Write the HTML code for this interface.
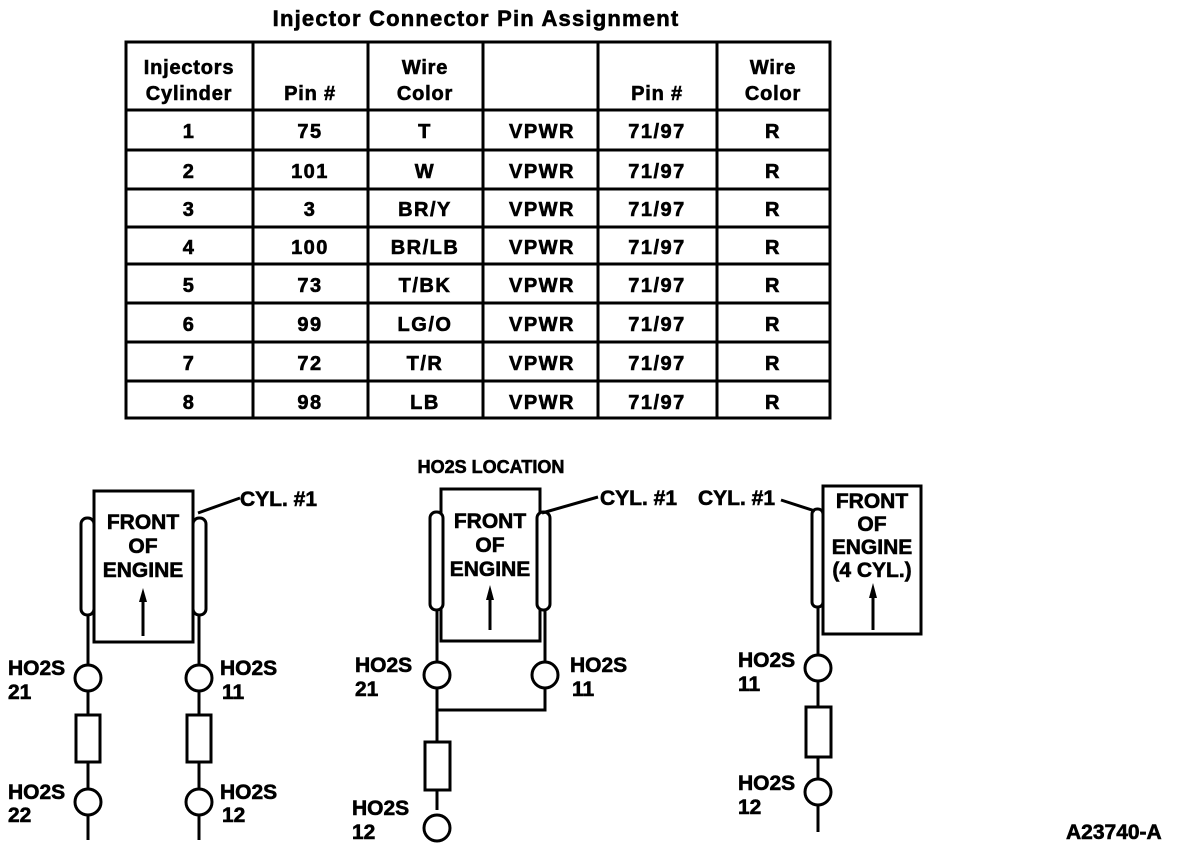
<!DOCTYPE html>
<html><head><meta charset="utf-8"><style>
html,body{margin:0;padding:0;background:#fff;width:1184px;height:852px;overflow:hidden}
text{font-family:"Liberation Sans",Arial,sans-serif;font-weight:bold;fill:#000;stroke:#000;stroke-width:0.6}
</style></head><body>
<svg width="1184" height="852" viewBox="0 0 1184 852" xmlns="http://www.w3.org/2000/svg">
<text x="476" y="26" font-size="22" text-anchor="middle" letter-spacing="1.2">Injector Connector Pin Assignment</text>
<g stroke="#000" stroke-width="3" fill="none">
<rect x="126" y="42" width="704" height="376"/>
<line x1="253" y1="42" x2="253" y2="418"/><line x1="368" y1="42" x2="368" y2="418"/>
<line x1="483" y1="42" x2="483" y2="418"/><line x1="598" y1="42" x2="598" y2="418"/>
<line x1="717" y1="42" x2="717" y2="418"/>
<line x1="126" y1="110" x2="830" y2="110"/><line x1="126" y1="150" x2="830" y2="150"/>
<line x1="126" y1="189" x2="830" y2="189"/><line x1="126" y1="227" x2="830" y2="227"/>
<line x1="126" y1="264" x2="830" y2="264"/><line x1="126" y1="303" x2="830" y2="303"/>
<line x1="126" y1="342" x2="830" y2="342"/><line x1="126" y1="381" x2="830" y2="381"/>
</g>
<g font-size="20" text-anchor="middle" letter-spacing="0.8">
<text x="189" y="74">Injectors</text><text x="189" y="100">Cylinder</text>
<text x="310" y="100">Pin #</text>
<text x="425" y="74">Wire</text><text x="425" y="100">Color</text>
<text x="657" y="100">Pin #</text>
<text x="773" y="74">Wire</text><text x="773" y="100">Color</text>
</g>
<g font-size="20" text-anchor="middle" letter-spacing="1.5">
<text x="189" y="138">1</text><text x="310" y="138">75</text><text x="425" y="138">T</text><text x="542" y="138">VPWR</text><text x="657" y="138">71/97</text><text x="773" y="138">R</text>
<text x="189" y="178">2</text><text x="310" y="178">101</text><text x="425" y="178">W</text><text x="542" y="178">VPWR</text><text x="657" y="178">71/97</text><text x="773" y="178">R</text>
<text x="189" y="216">3</text><text x="310" y="216">3</text><text x="425" y="216">BR/Y</text><text x="542" y="216">VPWR</text><text x="657" y="216">71/97</text><text x="773" y="216">R</text>
<text x="189" y="254">4</text><text x="310" y="254">100</text><text x="425" y="254">BR/LB</text><text x="542" y="254">VPWR</text><text x="657" y="254">71/97</text><text x="773" y="254">R</text>
<text x="189" y="292">5</text><text x="310" y="292">73</text><text x="425" y="292">T/BK</text><text x="542" y="292">VPWR</text><text x="657" y="292">71/97</text><text x="773" y="292">R</text>
<text x="189" y="331">6</text><text x="310" y="331">99</text><text x="425" y="331">LG/O</text><text x="542" y="331">VPWR</text><text x="657" y="331">71/97</text><text x="773" y="331">R</text>
<text x="189" y="370">7</text><text x="310" y="370">72</text><text x="425" y="370">T/R</text><text x="542" y="370">VPWR</text><text x="657" y="370">71/97</text><text x="773" y="370">R</text>
<text x="189" y="409">8</text><text x="310" y="409">98</text><text x="425" y="409">LB</text><text x="542" y="409">VPWR</text><text x="657" y="409">71/97</text><text x="773" y="409">R</text>
</g>
<text x="491" y="473" font-size="18" text-anchor="middle">HO2S LOCATION</text>

<!-- Left diagram -->
<g stroke="#000" stroke-width="3" fill="#fff">
<rect x="94" y="491" width="99" height="151"/>
<rect x="81" y="518" width="13" height="97" rx="6"/>
<rect x="193" y="518" width="13" height="97" rx="6"/>
<line x1="88" y1="615" x2="88" y2="665"/><line x1="199" y1="615" x2="199" y2="665"/>
<line x1="88" y1="691" x2="88" y2="715"/><line x1="88" y1="762" x2="88" y2="789"/><line x1="88" y1="815" x2="88" y2="840"/>
<line x1="199" y1="691" x2="199" y2="715"/><line x1="199" y1="762" x2="199" y2="789"/><line x1="199" y1="815" x2="199" y2="840"/>
<circle cx="88" cy="678" r="13"/><circle cx="199" cy="678" r="13"/>
<rect x="76" y="715" width="24" height="47"/><rect x="187" y="715" width="24" height="47"/>
<circle cx="88" cy="802" r="13"/><circle cx="199" cy="802" r="13"/>
<line x1="198" y1="513" x2="240" y2="498"/>
<line x1="143" y1="600" x2="143" y2="636"/>
</g>
<polygon points="143,588 139,602 147,602" fill="#000"/>
<g font-size="21" text-anchor="middle">
<text x="143" y="529">FRONT</text><text x="143" y="553">OF</text><text x="143" y="577">ENGINE</text>
</g>
<g font-size="21">
<text x="240" y="506">CYL. #1</text>
<text x="8" y="675">HO2S</text><text x="8" y="699">21</text>
<text x="220" y="675">HO2S</text><text x="222" y="699">11</text>
<text x="8" y="799">HO2S</text><text x="8" y="822">22</text>
<text x="220" y="799">HO2S</text><text x="222" y="822">12</text>
</g>

<!-- Middle diagram -->
<g stroke="#000" stroke-width="3" fill="#fff">
<rect x="441" y="489" width="99" height="152"/>
<rect x="430" y="512" width="13" height="98" rx="6"/>
<rect x="537" y="512" width="13" height="98" rx="6"/>
<line x1="437" y1="610" x2="437" y2="662"/><line x1="545" y1="610" x2="545" y2="662"/>
<circle cx="437" cy="675" r="13"/><circle cx="545" cy="675" r="13"/>
<polyline points="437,688 437,710 545,710 545,688" fill="none"/>
<line x1="437" y1="710" x2="437" y2="742"/>
<rect x="425" y="742" width="25" height="48"/>
<line x1="437" y1="790" x2="437" y2="810"/>
<circle cx="437" cy="828" r="13"/>
<line x1="542" y1="513" x2="598" y2="497"/>
<line x1="490" y1="600" x2="490" y2="630"/>
</g>
<polygon points="490,585 486,600 494,600" fill="#000"/>
<g font-size="21" text-anchor="middle">
<text x="490" y="528">FRONT</text><text x="490" y="552">OF</text><text x="490" y="576">ENGINE</text>
</g>
<g font-size="21">
<text x="600" y="505">CYL. #1</text>
<text x="355" y="672">HO2S</text><text x="355" y="696">21</text>
<text x="570" y="672">HO2S</text><text x="572" y="696">11</text>
<text x="352" y="815">HO2S</text><text x="352" y="839">12</text>
</g>

<!-- Right diagram -->
<g stroke="#000" stroke-width="3" fill="#fff">
<rect x="823" y="486" width="98" height="148"/>
<rect x="812" y="509" width="11" height="98" rx="5"/>
<line x1="818" y1="607" x2="818" y2="655"/>
<circle cx="818" cy="668" r="13"/>
<line x1="818" y1="681" x2="818" y2="707"/>
<rect x="806" y="707" width="25" height="50"/>
<line x1="818" y1="757" x2="818" y2="779"/>
<circle cx="818" cy="792" r="13"/>
<line x1="818" y1="805" x2="818" y2="832"/>
<line x1="781" y1="500" x2="815" y2="511"/>
<line x1="873" y1="597" x2="873" y2="630"/>
</g>
<polygon points="873,583 869,598 877,598" fill="#000"/>
<g font-size="21" text-anchor="middle">
<text x="872" y="508">FRONT</text><text x="872" y="531">OF</text><text x="872" y="554">ENGINE</text><text x="872" y="577">(4 CYL.)</text>
</g>
<g font-size="21">
<text x="698" y="505">CYL. #1</text>
<text x="738" y="667">HO2S</text><text x="738" y="691">11</text>
<text x="738" y="790">HO2S</text><text x="738" y="814">12</text>
<text x="1066" y="839">A23740-A</text>
</g>
</svg>
</body></html>
